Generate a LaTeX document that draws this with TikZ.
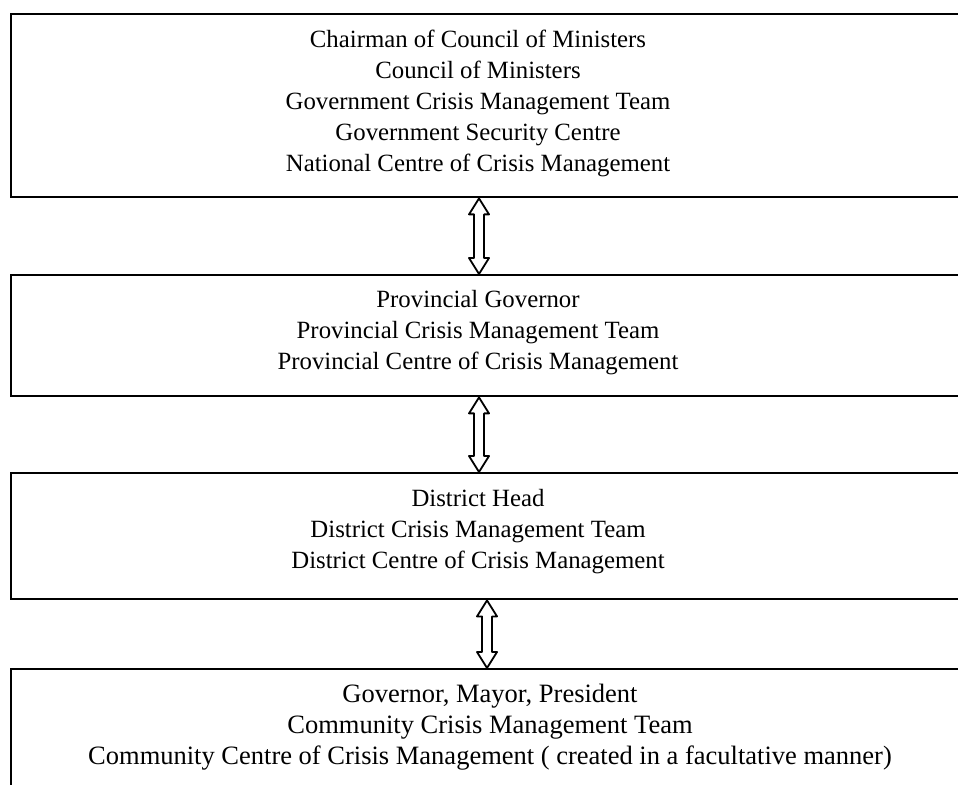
\documentclass[tikz,border=0pt]{standalone}
\usepackage{fontspec}
\setmainfont{Liberation Serif}
\usetikzlibrary{calc}
\tikzset{
  boxline/.style={draw=black, line width=1.2pt, inner sep=0pt, anchor=north west, rectangle, minimum width=490pt},
  lbl/.style={align=center, anchor=base, inner sep=0pt, font=\fontsize{12.4}{15.5}\selectfont},
  lblbig/.style={lbl, font=\fontsize{13.25}{15.5}\selectfont},
  blockarrow/.style={draw=black, fill=white, line width=0.9pt, line join=round},
}
\newcommand\blockarr[2]{%
  \draw[blockarrow] (#1) -- ($(#1)+(10,16)$) -- ($(#1)+(5,16)$) -- ($(#2)+(5,-16)$)
    -- ($(#2)+(10,-16)$) -- (#2) -- ($(#2)+(-10,-16)$) -- ($(#2)+(-5,-16)$)
    -- ($(#1)+(-5,16)$) -- ($(#1)+(-10,16)$) -- cycle;}
\begin{document}
\begin{tikzpicture}[x=0.5pt,y=-0.5pt]
\useasboundingbox (0,0) rectangle (958,785);
\clip (0,0) rectangle (958,785);
% boxes
\node[boxline, minimum height=91.5pt] (b1) at (10,13) {};
\node[boxline, minimum height=60.5pt] (b2) at (10,274) {};
\node[boxline, minimum height=63pt] (b3) at (10,472) {};
\node[boxline, minimum height=66pt] (b4) at (10,668) {};
% texts (anchor base = baseline of the last line)
\node[lbl] (t1) at (478,172) {Chairman of Council of Ministers\\Council of Ministers\\Government Crisis Management Team\\Government Security Centre\\National Centre of Crisis Management};
\node[lbl] (t2) at (478,370) {Provincial Governor\\Provincial Crisis Management Team\\Provincial Centre of Crisis Management};
\node[lbl] (t3) at (478,568) {District Head\\District Crisis Management Team\\District Centre of Crisis Management};
\node[lblbig] (t4) at (490,764) {Governor, Mayor, President\\Community Crisis Management Team\\Community Centre of Crisis Management ( created in a facultative manner)};
% arrows
\coordinate (ax1) at (479,0);
\coordinate (ax2) at (479,0);
\coordinate (ax3) at (487,0);
\coordinate (a1s) at (b1.south -| ax1);
\coordinate (a1e) at (b2.north -| ax1);
\coordinate (a2s) at (b2.south -| ax2);
\coordinate (a2e) at (b3.north -| ax2);
\coordinate (a3s) at (b3.south -| ax3);
\coordinate (a3e) at (b4.north -| ax3);
\blockarr{a1s}{a1e}
\blockarr{a2s}{a2e}
\blockarr{a3s}{a3e}
\end{tikzpicture}
\end{document}
